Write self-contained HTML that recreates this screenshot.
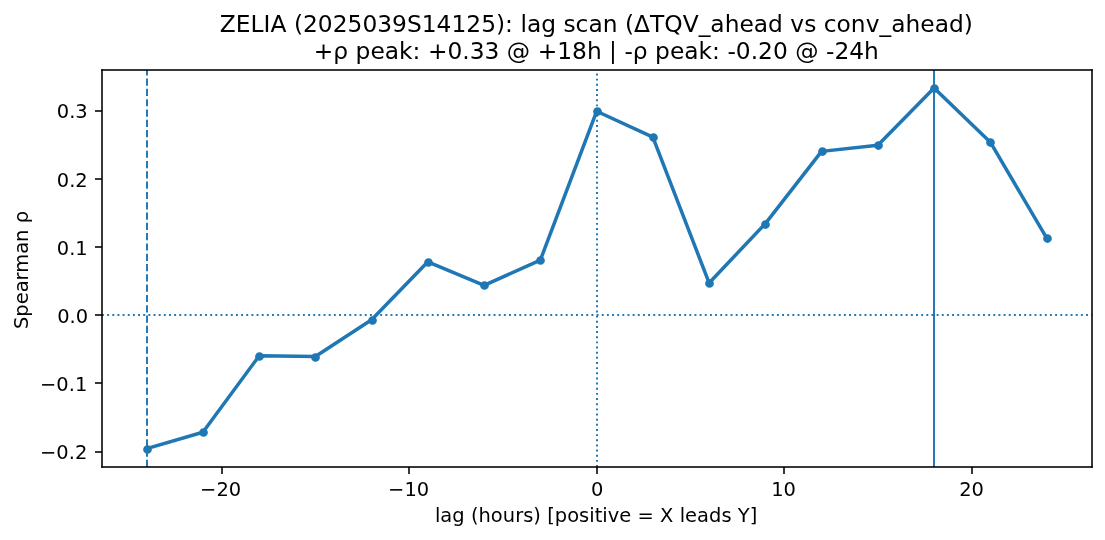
<!DOCTYPE html>
<html lang="en">
<head>
<meta charset="utf-8">
<title>ZELIA lag scan</title>
<style>
html,body{margin:0;padding:0;background:#fff;}
body{width:1105px;height:540px;overflow:hidden;}
svg{display:block;}
text{font-family:"DejaVu Sans","Liberation Sans",sans-serif;fill:#000;}
.tk{font-size:19.444px;}
.ti{font-size:23.333px;}
</style>
</head>
<body>
<svg width="1105" height="540" viewBox="0 0 1105 540">
<rect x="0" y="0" width="1105" height="540" fill="#ffffff"/>
<defs><clipPath id="ax"><rect x="102" y="70" width="990" height="397"/></clipPath></defs>
<!-- reference lines (zero lines, peak markers) -->
<g clip-path="url(#ax)" fill="none" stroke="rgb(37,122,182)" stroke-width="2">
<line x1="102" y1="315" x2="1092" y2="315" stroke-dasharray="1.944 3.208"/>
<line x1="597" y1="467" x2="597" y2="70" stroke-dasharray="1.944 3.208"/>
<line x1="934" y1="467" x2="934" y2="70"/>
<line x1="147" y1="467" x2="147" y2="70" stroke-dasharray="7.194 3.111"/>
</g>
<!-- data series -->
<g clip-path="url(#ax)" fill="none" stroke="#1f77b4">
<polyline points="146.64,448.58 202.88,432.23 259.13,355.85 315.38,356.53 371.62,319.77 427.87,261.80 484.11,285.40 540.36,260.09 596.61,111.28 652.85,137.20 709.10,282.94 765.35,223.61 821.59,151.38 877.84,145.31 934.09,87.99 990.33,142.17 1046.58,237.93" stroke-width="3.500" stroke-linejoin="round" stroke-linecap="square"/>
<g fill="#1f77b4" stroke-width="1.944">
<circle cx="147.50" cy="449.50" r="3.403"/>
<circle cx="203.50" cy="432.50" r="3.403"/>
<circle cx="259.50" cy="356.50" r="3.403"/>
<circle cx="315.50" cy="357.50" r="3.403"/>
<circle cx="372.50" cy="320.50" r="3.403"/>
<circle cx="428.50" cy="262.50" r="3.403"/>
<circle cx="484.50" cy="285.50" r="3.403"/>
<circle cx="540.50" cy="260.50" r="3.403"/>
<circle cx="597.50" cy="111.50" r="3.403"/>
<circle cx="653.50" cy="137.50" r="3.403"/>
<circle cx="709.50" cy="283.50" r="3.403"/>
<circle cx="765.50" cy="224.50" r="3.403"/>
<circle cx="822.50" cy="151.50" r="3.403"/>
<circle cx="878.50" cy="145.50" r="3.403"/>
<circle cx="934.50" cy="88.50" r="3.403"/>
<circle cx="990.50" cy="142.50" r="3.403"/>
<circle cx="1047.50" cy="238.50" r="3.403"/>
</g>
</g>
<!-- ticks and spines -->
<g fill="#000" fill-opacity="0.7804" shape-rendering="crispEdges">
<rect x="221" y="467" width="2" height="7"/>
<rect x="408" y="467" width="2" height="7"/>
<rect x="596" y="467" width="2" height="7"/>
<rect x="783" y="467" width="2" height="7"/>
<rect x="971" y="467" width="2" height="7"/>
<rect x="95" y="451" width="7" height="2"/>
<rect x="95" y="382" width="7" height="2"/>
<rect x="95" y="314" width="7" height="2"/>
<rect x="95" y="246" width="7" height="2"/>
<rect x="95" y="178" width="7" height="2"/>
<rect x="95" y="110" width="7" height="2"/>
</g>
<g fill="#000" fill-opacity="0.7804">
<rect x="101" y="69.222" width="2" height="398.556"/>
<rect x="1091" y="69.222" width="2" height="398.556"/>
<rect x="101.222" y="69" width="991.556" height="2"/>
<rect x="101.222" y="466" width="991.556" height="2"/>
</g>
<!-- tick labels -->
<g class="tk" text-anchor="middle">
<text x="220.63" y="496.00">−20</text>
<text x="408.62" y="496.00">−10</text>
<text x="597.11" y="496.00">0</text>
<text x="783.59" y="496.00">10</text>
<text x="971.58" y="496.00">20</text>
</g>
<g class="tk" text-anchor="end">
<text x="87.25" y="459.00">−0.2</text>
<text x="87.25" y="391.00">−0.1</text>
<text x="88.05" y="323.00">0.0</text>
<text x="87.75" y="255.00">0.1</text>
<text x="87.75" y="187.00">0.2</text>
<text x="87.75" y="118.00">0.3</text>
</g>
<!-- axis labels and title -->
<text class="tk" text-anchor="middle" x="596.11" y="522.00" textLength="322.375" lengthAdjust="spacing">lag (hours) [positive = X leads Y]</text>
<text class="tk" text-anchor="middle" transform="translate(27.50,270.00) rotate(-90)" textLength="118" lengthAdjust="spacing">Spearman ρ</text>
<text class="ti" text-anchor="middle" x="596.36" y="32.00" textLength="753" lengthAdjust="spacing">ZELIA (2025039S14125): lag scan (ΔTQV_ahead vs conv_ahead)</text>
<text class="ti" text-anchor="middle" x="596.36" y="59.00" textLength="565.1" lengthAdjust="spacing">+ρ peak: +0.33 @ +18h | -ρ peak: -0.20 @ -24h</text>
</svg>
</body>
</html>
